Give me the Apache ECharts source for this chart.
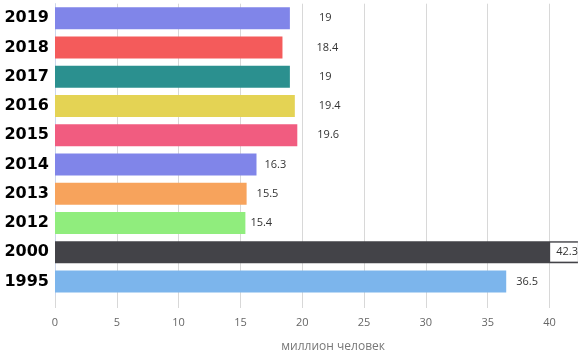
<!DOCTYPE html>
<html>
<head>
<meta charset="utf-8">
<script src="https://cdn.jsdelivr.net/npm/echarts@6/dist/echarts.min.js"></script>
<style>
html,body{margin:0;padding:0;background:#fff;}
#c{width:581px;height:355px;}
</style>
</head>
<body>
<div id="c"></div>
<script>
const categories = ['2019','2018','2017','2016','2015','2014','2013','2012','2000','1995'];
const values = [19, 18.4, 19, 19.4, 19.6, 16.3, 15.5, 15.4, 42.3, 36.5];
const barColors = ['#8085e9','#f45b5b','#2b908f','#e4d354','#f15c80','#8085e9','#f7a35c','#90ed7d','#434348','#7cb5ec'];
const labelGap = [29, 34, 29, 24, 20, 8, 10, 5, 0, 10];
const axisName = 'миллион человек';
const xMax = 45, xStep = 5;

const chart = echarts.init(document.getElementById('c'), null, {renderer:'canvas'});
const data = values.map((v, i) => {
  const item = { value: v, itemStyle: { color: barColors[i] } };
  if (categories[i] === '2000') {
    item.label = {
      position: 'insideRight', distance: 0,
      backgroundColor: '#fff', padding: [4, 0, 4, 6], color: '#333'
    };
  } else {
    item.label = { distance: labelGap[i] };
  }
  return item;
});

chart.setOption({
  animation: false,
  backgroundColor: '#fff',
  grid: { left: 55, top: 3.7, width: 556.3, height: 292.3, containLabel: false, outerBoundsMode: 'none' },
  xAxis: {
    type: 'value', min: 0, max: xMax, interval: xStep,
    axisLine: { show: false },
    axisTick: { show: true, length: 12, lineStyle: { color: '#d8d8d8' } },
    axisLabel: { margin: 21, color: '#666', fontFamily: 'Open Sans', fontSize: 11 },
    splitLine: { show: true, lineStyle: { color: '#d8d8d8' } },
    name: axisName, nameLocation: 'middle', nameGap: 45,
    nameTextStyle: { color: '#777', fontFamily: 'Open Sans', fontSize: 12 }
  },
  yAxis: {
    type: 'category', data: categories, inverse: true,
    axisLine: { show: true, lineStyle: { color: '#ccd6eb' } },
    axisTick: { show: false },
    axisLabel: { margin: 6, color: '#000', fontFamily: 'DejaVu Sans', fontWeight: 'bold', fontSize: 16 }
  },
  series: [{
    type: 'bar', data: data, barWidth: 22,
    label: { show: true, position: 'right', color: '#333', fontFamily: 'Open Sans', fontSize: 11 }
  }]
});
</script>
</body>
</html>
